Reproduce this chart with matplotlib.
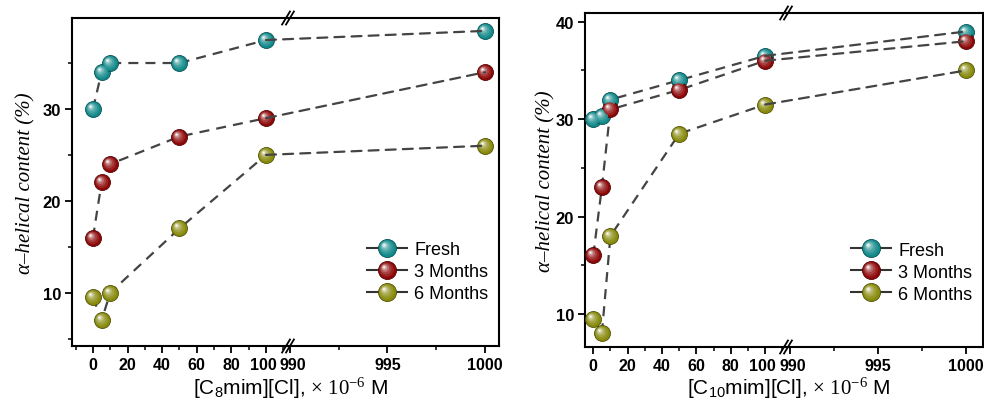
import numpy as np
import matplotlib
matplotlib.use("Agg")
import matplotlib.pyplot as plt
from matplotlib.path import Path
from matplotlib.lines import Line2D
from matplotlib.patches import ConnectionPatch
from matplotlib.legend_handler import HandlerTuple
from matplotlib.ticker import MultipleLocator, FixedLocator
import matplotlib.colors as mcolors
import matplotlib.transforms as mtransforms

plt.rcParams['font.family'] = ['Liberation Sans', 'DejaVu Sans']
plt.rcParams['mathtext.fontset'] = 'custom'
plt.rcParams['mathtext.rm'] = 'Liberation Serif'
plt.rcParams['mathtext.it'] = 'Liberation Serif:italic'
plt.rcParams['mathtext.sf'] = 'Liberation Sans'

# ---------------- data ----------------
conc = [0, 5, 10, 50, 100, 1000]
series_names = ["Fresh", "3 Months", "6 Months"]
series_colors = ["#11898a", "#8e0808", "#888a0c"]

c8_fresh = [30, 34, 35, 35, 37.5, 38.5]
c8_3m = [16, 22, 24, 27, 29, 34]
c8_6m = [9.5, 7, 10, 17, 25, 26]

c10_fresh = [30, 30.3, 32, 34, 36.5, 39]
c10_3m = [16, 23, 31, 33, 36, 38]
c10_6m = [9.5, 8, 18, 28.5, 31.5, 35]

xlabels = [r"[C$_\mathsf{8}$mim][Cl], $\times\ \mathrm{10}^{-6}$ M",
           r"[C$_\mathsf{10}$mim][Cl], $\times\ \mathrm{10}^{-6}$ M"]
ylabel = "α–helical content (%)"

W, H = 984, 406
fig = plt.figure(figsize=(W / 100, H / 100), dpi=100)

def fx(px):
    return px / W

def fy(py):
    return 1 - py / H

MS = 11.5
DASH = (0, (4.5, 3.2))

def darker(c, f=0.65):
    r, g, b = mcolors.to_rgb(c)
    return (r * f, g * f, b * f)

def mix(c, t):
    r, g, b = mcolors.to_rgb(c)
    return (r + (1 - r) * t, g + (1 - g) * t, b + (1 - b) * t)

layers = [(0.10, 0.80, 0.12), (0.18, 0.62, 0.25), (0.26, 0.45, 0.42),
          (0.32, 0.30, 0.62), (0.36, 0.17, 0.85), (0.38, 0.08, 1.0)]

def layer_markers(ms):
    out = []
    for a, r, t in layers:
        p = Path.circle((-a, a), r)
        m = np.max(np.abs(p.vertices))
        out.append((p, ms * m, t))
    return out

def sphere_plot(ax, x, y, color, ms=MS, zorder=5):
    ax.plot(x, y, ls='none', marker='o', ms=ms, mfc=color, mec=darker(color, 0.6),
            mew=0.6, zorder=zorder, clip_on=False)
    for p, s, t in layer_markers(ms):
        ax.plot(x, y, ls='none', marker=p, ms=s, mfc=mix(color, t), mec='none',
                alpha=0.9, zorder=zorder + 0.1, clip_on=False)

def legend_handle(color, ms=13):
    hs = [Line2D([], [], color='#333333', lw=1.5, ls='-', marker='o', ms=ms,
                 mfc=color, mec=darker(color, 0.6), mew=0.6)]
    for p, s, t in layer_markers(ms):
        hs.append(Line2D([], [], ls='none', marker=p, ms=s, mfc=mix(color, t),
                         mec='none', alpha=0.9))
    return tuple(hs)

def make_panel(geom, xl1, xl2, yl, yticks_major, data, xlabel, ylab_x):
    (l, brk, rgt, top, bot) = geom
    hgt = fy(top) - fy(bot)
    ax1 = fig.add_axes([fx(l), fy(bot), fx(brk - l), hgt])
    ax2 = fig.add_axes([fx(brk), fy(bot), fx(rgt - brk), hgt], sharey=ax1)
    ax1.set_xlim(*xl1)
    ax2.set_xlim(*xl2)
    ax1.set_ylim(*yl)
    for ax in (ax1, ax2):
        for s in ax.spines.values():
            s.set_linewidth(1.5)
        ax.tick_params(direction='out', width=1.3, length=5, labelsize=12, pad=3)
        ax.tick_params(axis='x', labelsize=11.5)
        ax.tick_params(which='minor', direction='out', width=1.1, length=3)
    ax1.spines['right'].set_visible(False)
    ax2.spines['left'].set_visible(False)
    ax2.tick_params(axis='y', which='both', left=False, labelleft=False)
    ax1.xaxis.set_major_locator(FixedLocator([0, 20, 40, 60, 80, 100]))
    ax1.xaxis.set_minor_locator(FixedLocator([-10, 10, 30, 50, 70, 90, 110]))
    ax2.xaxis.set_major_locator(FixedLocator([990, 995, 1000]))
    ax2.xaxis.set_minor_locator(FixedLocator([992.5, 997.5]))
    ax1.yaxis.set_major_locator(FixedLocator(yticks_major))
    ax1.yaxis.set_minor_locator(MultipleLocator(5))
    for lab in ax1.get_xticklabels() + ax1.get_yticklabels() + ax2.get_xticklabels():
        lab.set_fontweight('bold')
    # nudge the labels that meet at the break apart slightly
    labs1 = ax1.get_xticklabels()
    labs2 = ax2.get_xticklabels()
    labs1[-1].set_transform(labs1[-1].get_transform() +
                            mtransforms.ScaledTranslation(-2.5 / 100, 0, fig.dpi_scale_trans))
    labs2[0].set_transform(labs2[0].get_transform() +
                           mtransforms.ScaledTranslation(2.5 / 100, 0, fig.dpi_scale_trans))

    handles = []
    for ys, color, name in zip(data, series_colors, series_names):
        xs_l = [x for x in conc if x <= 100]
        ys_l = [v for x, v in zip(conc, ys) if x <= 100]
        ax1.plot(xs_l, ys_l, ls=DASH, color='#444444', lw=1.6, zorder=2)
        con = ConnectionPatch(xyA=(conc[-2], ys[-2]), coordsA=ax1.transData,
                              xyB=(conc[-1], ys[-1]), coordsB=ax2.transData,
                              ls=DASH, color='#444444', lw=1.6, zorder=2)
        fig.add_artist(con)
        sphere_plot(ax1, xs_l, ys_l, color)
        sphere_plot(ax2, [conc[-1]], [ys[-1]], color)
        handles.append(legend_handle(color))

    ax2.legend(handles, series_names, loc='lower right',
               bbox_to_anchor=(1.0, 0.10), frameon=False, fontsize=13,
               handler_map={tuple: HandlerTuple(ndivide=1, pad=0)}, numpoints=1,
               handlelength=2.2, handletextpad=0.4, labelspacing=0.28,
               borderaxespad=0.2)

    # break marks
    for y0 in (fy(top), fy(bot)):
        x0 = fx(brk)
        for dx in (-0.004, 0.0):
            fig.add_artist(Line2D([x0 + dx - 0.002, x0 + dx + 0.006],
                                  [y0 - 0.016, y0 + 0.016], color='black', lw=1.3,
                                  transform=fig.transFigure))
    # labels
    fig.text(fx((l + rgt) / 2) + 0.005, 0.012, xlabel, ha='center', va='bottom',
             fontsize=15)
    fig.text(fx(ylab_x), (fy(top) + fy(bot)) / 2, ylabel, rotation=90, ha='center',
             va='center', fontsize=15, family=['Liberation Serif', 'DejaVu Serif'],
             style='italic')
    return ax1, ax2

make_panel((72, 288, 499, 19, 347), (-12.1, 112.7), (989.9, 1000.72), (4.2, 39.9),
           [10, 20, 30], [c8_fresh, c8_3m, c8_6m], xlabels[0], 26)
make_panel((585, 786, 983, 14, 348), (-4.8, 112.1), (989.77, 1000.97), (6.6, 40.9),
           [10, 20, 30, 40], [c10_fresh, c10_3m, c10_6m], xlabels[1], 546)

fig.savefig("out.png", dpi=100)
